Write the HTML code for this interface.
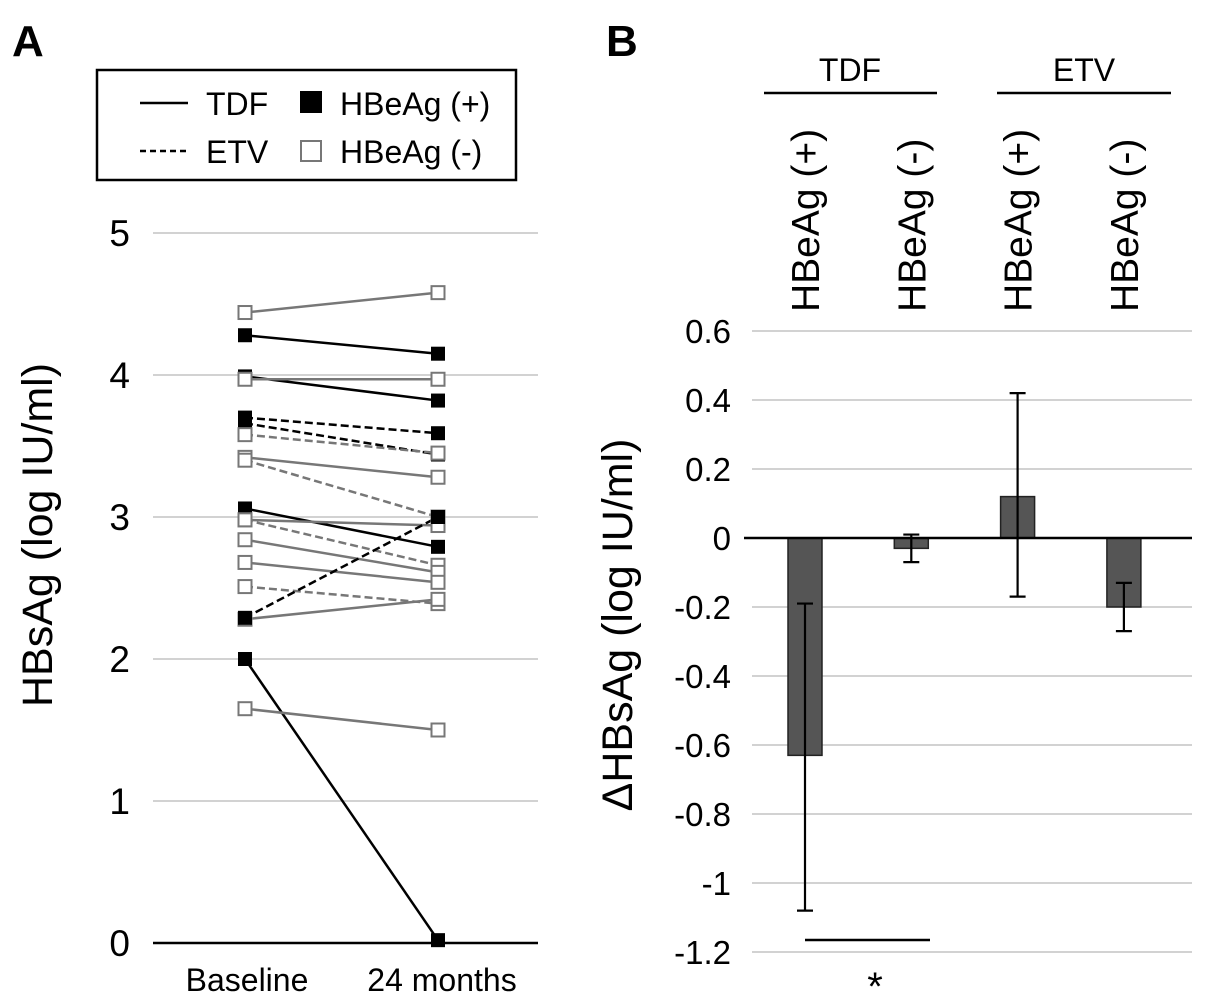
<!DOCTYPE html>
<html><head><meta charset="utf-8"><style>
body{margin:0;background:#fff}
svg{display:block;font-family:"Liberation Sans",Arial,sans-serif}
</style></head><body>
<svg id="chart" width="1205" height="1005" viewBox="0 0 1205 1005">
<text x="12" y="56" font-size="44" font-weight="bold">A</text>
<text x="606" y="56" font-size="44" font-weight="bold">B</text>
<g>
<rect x="97" y="70" width="419" height="110" fill="#fff" stroke="#000" stroke-width="2.5"/>
<line x1="140" y1="103" x2="188" y2="103" stroke="#000" stroke-width="2.5"/>
<text x="206" y="115" font-size="32">TDF</text>
<line x1="140" y1="151" x2="188" y2="151" stroke="#000" stroke-width="2.5" stroke-dasharray="6,4"/>
<text x="206" y="163" font-size="32">ETV</text>
<rect x="300" y="91" width="22" height="22" fill="#000"/>
<text x="340" y="115" font-size="32">HBeAg (+)</text>
<rect x="301" y="141" width="20" height="20" fill="#fff" stroke="#777" stroke-width="2"/>
<text x="340" y="163" font-size="32">HBeAg (-)</text>
</g>
<g id="pa"></g>
<g id="pb"></g>
<text transform="translate(52,535) rotate(-90)" text-anchor="middle" font-size="43">HBsAg (log IU/ml)</text>
<text transform="translate(632,625) rotate(-90)" text-anchor="middle" font-size="43">ΔHBsAg (log IU/ml)</text>
<text x="247" y="991" text-anchor="middle" font-size="32">Baseline</text>
<text x="442" y="991" text-anchor="middle" font-size="32">24 months</text>
<text x="850" y="81" text-anchor="middle" font-size="32">TDF</text>
<text x="1084" y="81" text-anchor="middle" font-size="32">ETV</text>
<line x1="764" y1="93" x2="937" y2="93" stroke="#000" stroke-width="2.5"/>
<line x1="997" y1="93" x2="1171" y2="93" stroke="#000" stroke-width="2.5"/>
<line x1="805" y1="940" x2="930" y2="940" stroke="#000" stroke-width="2.5"/>
<text x="875" y="1000" text-anchor="middle" font-size="40">*</text>
</svg>
<script>
// Panel A data
const aYTicks = [0,1,2,3,4,5];
const aBaseline = [4.44,4.28,3.99,3.97,3.70,3.66,3.58,3.42,3.40,3.06,2.98,2.98,2.84,2.68,2.51,2.28,2.29,2.00,1.65];
const aMonth24  = [4.58,4.15,3.82,3.97,3.59,3.44,3.45,3.28,3.00,2.79,2.94,2.66,2.61,2.54,2.39,2.42,3.00,0.02,1.50];
const aDrug     = ['TDF','TDF','TDF','TDF','ETV','ETV','ETV','TDF','ETV','TDF','TDF','ETV','TDF','TDF','ETV','TDF','ETV','TDF','TDF'];
const aHBeAg    = ['-','+','+','-','+','+','-','-','-','+','-','-','-','-','-','-','+','+','-'];
// Panel B data
const bCategories = ['TDF HBeAg (+)','TDF HBeAg (-)','ETV HBeAg (+)','ETV HBeAg (-)'];
const bLabels = ['HBeAg (+)','HBeAg (-)','HBeAg (+)','HBeAg (-)'];
const bValues = [-0.63,-0.03,0.12,-0.20];
const bErrHigh = [-0.19,0.01,0.42,-0.13];
const bErrLow = [-1.08,-0.07,-0.17,-0.27];
const bYTicks = [0.6,0.4,0.2,0,-0.2,-0.4,-0.6,-0.8,-1,-1.2];

const NS='http://www.w3.org/2000/svg';
function mk(tag,attrs,parent,text){const e=document.createElementNS(NS,tag);for(const k in attrs)e.setAttribute(k,attrs[k]);if(text!==undefined)e.textContent=text;parent.appendChild(e);return e;}
const ya=v=>943-v*142;
const xa=i=>i===0?245:438;
const pa=document.getElementById('pa');
aYTicks.forEach(t=>{
 const l=mk('line',{x1:153,x2:538,y1:ya(t),y2:ya(t),stroke:t===0?'#000':'#ccc','stroke-width':t===0?2.5:1.8},pa);
 
 
 const tx=mk('text',{x:130,y:ya(t)+13,'text-anchor':'end','font-size':37},pa,String(t));
 
 
});
aBaseline.forEach((b,i)=>{
 const pos=aHBeAg[i]==='+';
 const col=pos?'#000':'#777';
 const attrs={x1:xa(0),y1:ya(b),x2:xa(1),y2:ya(aMonth24[i]),stroke:col,'stroke-width':2.5};
 if(aDrug[i]==='ETV')attrs['stroke-dasharray']='8,4';
 const l=mk('line',attrs,pa);
 
 
});
aBaseline.forEach((b,i)=>{
 const pos=aHBeAg[i]==='+';
 [b,aMonth24[i]].forEach((v,j)=>{
  const r=mk('rect',pos?{x:xa(j)-7,y:ya(v)-7,width:14,height:14,fill:'#000'}:{x:xa(j)-6.5,y:ya(v)-6.5,width:13,height:13,fill:'#fff',stroke:'#777','stroke-width':2},pa);
  
  
 });
});
const yb=v=>538-v*345;
const xb=i=>805+i*106.3;
const pb=document.getElementById('pb');
bYTicks.forEach(t=>{
 if(t!==0){const l=mk('line',{x1:752,x2:1192,y1:yb(t),y2:yb(t),stroke:'#ccc','stroke-width':1.8},pb);
 
 }
 const tx=mk('text',{x:731,y:yb(t)+12,'text-anchor':'end','font-size':33},pb,String(t));
 
 
});
bValues.forEach((v,i)=>{
 const x=xb(i);
 const r=mk('rect',{x:x-17,y:Math.min(yb(v),yb(0)),width:34,height:Math.abs(yb(v)-yb(0)),fill:'#555',stroke:'#222','stroke-width':1.5},pb);
 
 
 const e=mk('path',{d:`M${x},${yb(bErrHigh[i])}V${yb(bErrLow[i])}M${x-8},${yb(bErrHigh[i])}h16M${x-8},${yb(bErrLow[i])}h16`,stroke:'#000','stroke-width':2.2,fill:'none'},pb);
 
 
 const t=mk('text',{transform:`translate(${x+14},312) rotate(-90)`,'font-size':39},pb,bLabels[i]);
 
 
});
const z=mk('line',{x1:744,x2:1192,y1:yb(0),y2:yb(0),stroke:'#000','stroke-width':2.5},pb);


</script>
</body></html>
